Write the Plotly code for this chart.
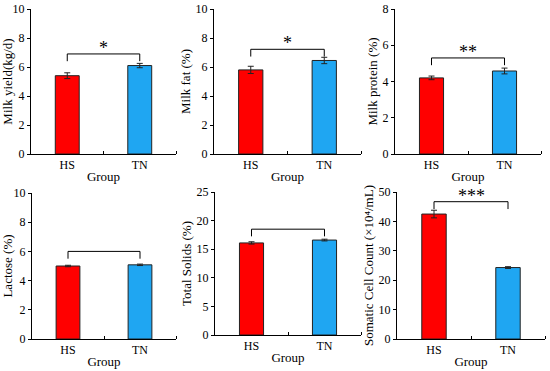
import plotly.graph_objects as go

groups = ["HS", "TN"]

titles = ["Milk yield(kg/d)", "Milk fat (%)", "Milk protein (%)",
          "Lactose (%)", "Total Solids (%)", "Somatic Cell Count (×10⁴/mL)"]

milk_yield_mean = [5.4, 6.1]
milk_yield_err = [0.2, 0.15]
milk_fat_mean = [5.8, 6.45]
milk_fat_err = [0.25, 0.22]
milk_protein_mean = [4.2, 4.58]
milk_protein_err = [0.1, 0.16]
lactose_mean = [5.0, 5.08]
lactose_err = [0.05, 0.05]
total_solids_mean = [16.1, 16.6]
total_solids_err = [0.2, 0.15]
scc_mean = [42.5, 24.3]
scc_err = [1.3, 0.3]

significance = ["*", "*", "**", "", "", "***"]

y_max = [10, 10, 8, 10, 25, 50]
y_dtick = [2, 2, 2, 2, 5, 10]

means = [milk_yield_mean, milk_fat_mean, milk_protein_mean,
         lactose_mean, total_solids_mean, scc_mean]
errs = [milk_yield_err, milk_fat_err, milk_protein_err,
        lactose_err, total_solids_err, scc_err]

W, H = 550, 371
# pixel boxes: (x0, x1, ytop, ybottom)
boxes = [(31, 176, 9, 154), (214, 361, 9, 154), (395, 541, 9, 154),
         (32, 176, 193, 339), (215, 361, 192, 335), (397, 545, 192, 339)]
bracket_frac = [0.065, 0.055, 0.07, 0.087, 0.07, 0.058]

colors = ["#FF0000", "#1FA6F2"]
FONT = "Liberation Serif, Times New Roman, serif"

fig = go.Figure()
layout = {}
for i in range(6):
    n = "" if i == 0 else str(i + 1)
    x0, x1, yt, yb = boxes[i]
    xa = dict(domain=[x0 / W, x1 / W], range=[0.5, 2.5], automargin=False,
              tickvals=[1, 2], ticktext=groups, ticks="",
              showline=True, linecolor="black", linewidth=1,
              showgrid=False, zeroline=False,
              tickfont=dict(family=FONT, size=12, color="black"),
              title=dict(text="Group", font=dict(family=FONT, size=13, color="black"), standoff=0),
              minor=dict(tickvals=[1.5, 2.5], ticks="inside", ticklen=3, tickcolor="black", tickwidth=1),
              anchor="y" + n, fixedrange=True)
    ya = dict(domain=[1 - yb / H, 1 - yt / H], range=[0, y_max[i]], dtick=y_dtick[i],
              automargin=False,
              ticks="outside", ticklen=3, tickcolor="black", tickwidth=1,
              showline=True, linecolor="black", linewidth=1,
              showgrid=False, zeroline=False,
              tickfont=dict(family=FONT, size=12, color="black"),
              title=dict(text=titles[i], font=dict(family=FONT, size=13, color="black"), standoff=2),
              anchor="x" + n, fixedrange=True)
    layout["xaxis" + n] = xa
    layout["yaxis" + n] = ya
    fig.add_trace(go.Bar(
        x=[1, 2], y=means[i], width=0.33,
        marker=dict(color=colors, line=dict(color="#222222", width=1)),
        error_y=dict(type="data", array=errs[i], color="#222222", thickness=1, width=3),
        xaxis="x" + n, yaxis="y" + n, showlegend=False, hoverinfo="skip"))
    tops = [m + e for m, e in zip(means[i], errs[i])]
    by = max(tops) + bracket_frac[i] * y_max[i]
    leg = 0.05 * y_max[i]
    fig.add_shape(type="path",
                  path=f"M 1,{by - leg} L 1,{by} L 2,{by} L 2,{by - leg}",
                  xref="x" + n, yref="y" + n, line=dict(color="black", width=1))
    if significance[i]:
        fig.add_annotation(x=1.5, y=by, xref="x" + n, yref="y" + n,
                           text=significance[i], showarrow=False, yanchor="bottom",
                           yshift=-6, font=dict(family=FONT, size=18, color="black"))

fig.update_layout(width=W, height=H, margin=dict(l=0, r=0, t=0, b=0),
                  paper_bgcolor="white", plot_bgcolor="white", **layout)
fig.write_html("out.html", config={"displayModeBar": False},
               post_script="document.body.style.margin='0';document.body.style.overflow='hidden';")
